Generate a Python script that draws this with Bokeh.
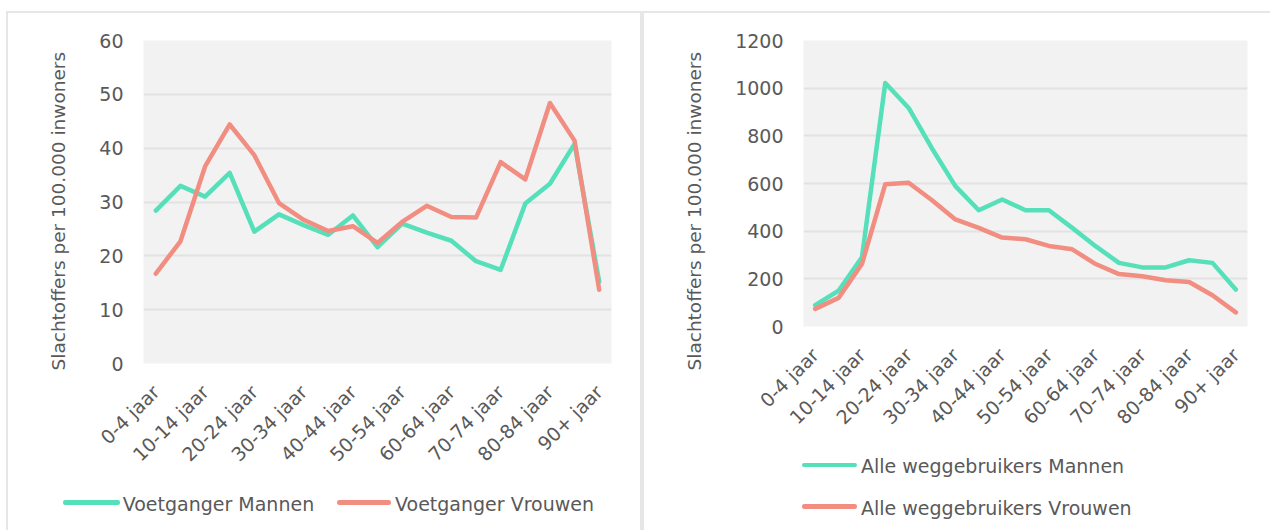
import math
from bokeh.plotting import figure
from bokeh.models import Range1d, Spacer, FixedTicker, Div, Title
from bokeh.layouts import row, column
from bokeh.embed import file_html
from bokeh.resources import INLINE

# ---- data ----
categories = ["0-4 jaar", "5-9 jaar", "10-14 jaar", "15-19 jaar", "20-24 jaar",
              "25-29 jaar", "30-34 jaar", "35-39 jaar", "40-44 jaar", "45-49 jaar",
              "50-54 jaar", "55-59 jaar", "60-64 jaar", "65-69 jaar", "70-74 jaar",
              "75-79 jaar", "80-84 jaar", "85-89 jaar", "90+ jaar"]

voetganger_mannen = [28.4, 33.0, 31.0, 35.4, 24.5, 27.7, 25.7, 23.9, 27.5, 21.6,
                     26.0, 24.3, 22.8, 19.0, 17.4, 29.7, 33.4, 40.8, 15.2]
voetganger_vrouwen = [16.7, 22.7, 36.6, 44.4, 38.7, 29.8, 26.7, 24.6, 25.5, 22.4,
                      26.3, 29.3, 27.2, 27.1, 37.4, 34.2, 48.4, 41.4, 13.7]

alle_mannen = [90, 150, 290, 1022, 917, 747, 589, 488, 533, 488,
               488, 414, 337, 267, 248, 248, 278, 267, 155]
alle_vrouwen = [74, 120, 262, 597, 603, 530, 449, 414, 373, 366,
                338, 324, 262, 220, 211, 194, 187, 131, 59]

left_ticks = [0, 10, 20, 30, 40, 50, 60]
right_ticks = [0, 200, 400, 600, 800, 1000, 1200]
y_title = "Slachtoffers per 100.000 inwoners"
left_labels = ["Voetganger Mannen", "Voetganger Vrouwen"]
right_labels = ["Alle weggebruikers Mannen", "Alle weggebruikers Vrouwen"]

# category positions on the axis (one slot per age group)
x_pos = list(range(len(categories)))

# ---- style ----
FONT = "DejaVu Sans"
TXT = "#595959"
GREEN = "#55E0BA"
RED = "#F18E81"
FS = "19px"
TITLE_FS = "18.5px"
BORDER = "#E6E6E6"
LW = 4.5


def make_fig(width, height, mbl, mbr, mbt, mbb, ticks, shadow, title_offset):
    p = figure(width=width, height=height,
               x_range=Range1d(-0.5, len(categories) - 0.5),
               y_range=Range1d(ticks[0], ticks[-1]),
               output_backend="svg", toolbar_location=None,
               min_border_left=mbl, min_border_right=mbr,
               min_border_top=mbt, min_border_bottom=mbb,
               styles={"box-shadow": shadow})
    p.border_fill_color = None
    p.background_fill_color = "#F2F2F2"
    p.outline_line_color = None
    p.xgrid.grid_line_color = None
    p.ygrid.grid_line_color = "#E2E2E2"
    p.ygrid.grid_line_width = 2
    p.yaxis.ticker = FixedTicker(ticks=ticks)
    p.xaxis.ticker = FixedTicker(ticks=x_pos[::2])
    p.xaxis.major_label_overrides = {i: c for i, c in zip(x_pos, categories)}
    for ax in (p.xaxis[0], p.yaxis[0]):
        ax.axis_line_color = None
        ax.major_tick_line_color = None
        ax.minor_tick_line_color = None
        ax.major_tick_out = 0
        ax.major_tick_in = 0
        ax.minor_tick_out = 0
        ax.major_label_text_font = FONT
        ax.major_label_text_font_size = FS
        ax.major_label_text_color = TXT
    p.yaxis.major_label_standoff = 20
    p.xaxis.major_label_standoff = 25
    p.xaxis.major_label_orientation = math.pi / 4
    # vertical axis title, placed outside the tick labels
    p.add_layout(Title(text=y_title, align="left", offset=title_offset,
                       standoff=56, text_font=FONT, text_font_size=TITLE_FS,
                       text_font_style="normal", text_color=TXT), "left")
    return p


def legend_div(width, height, entries, shadow):
    """entries: (label, colour, bar_left, bar_width, text_left, centre_y)"""
    parts = []
    for label, colour, bl, bw, tl, cy in entries:
        parts.append(
            f'<div style="position:absolute;left:{bl}px;top:{cy - 2.25}px;'
            f'width:{bw}px;height:4.5px;border-radius:2.25px;'
            f'background:{colour};"></div>')
        parts.append(
            f'<div style="position:absolute;left:{tl}px;top:{cy - 11}px;'
            f'line-height:24px;white-space:nowrap;font-family:\'{FONT}\';'
            f'font-size:{FS};color:{TXT};">{label}</div>')
    html = (f'<div style="position:relative;width:{width}px;height:{height}px;">'
            + "".join(parts) + "</div>")
    return Div(text=html, width=width, height=height,
               styles={"box-shadow": shadow, "margin": "0", "padding": "0"})


# ---- left panel ----
p1 = make_fig(636, 470, 137, 31, 29, 118, left_ticks,
              f"inset 2px 2px 0 0 {BORDER}, inset -2px 0 0 0 {BORDER}", -7)
p1.line(x_pos, voetganger_mannen, line_color=GREEN, line_width=LW,
        line_cap="round", line_join="round")
p1.line(x_pos, voetganger_vrouwen, line_color=RED, line_width=LW,
        line_cap="round", line_join="round")
l1 = legend_div(636, 49,
                [(left_labels[0], GREEN, 57.3, 56.7, 116.7, 21.7),
                 (left_labels[1], RED, 330.6, 54.7, 389, 21.7)],
                f"inset 2px 0 0 0 {BORDER}, inset -2px 0 0 0 {BORDER}")

# ---- right panel ----
p2 = make_fig(628, 436, 161, 23, 29, 121, right_ticks,
              f"inset 2px 2px 0 0 {BORDER}", -44)
p2.line(x_pos, alle_mannen, line_color=GREEN, line_width=LW,
        line_cap="round", line_join="round")
p2.line(x_pos, alle_vrouwen, line_color=RED, line_width=LW,
        line_cap="round", line_join="round")
l2 = legend_div(628, 83,
                [(right_labels[0], GREEN, 159.7, 55, 219, 18),
                 (right_labels[1], RED, 159.7, 55, 219, 59.7)],
                f"inset 2px 0 0 0 {BORDER}")

layout = column(Spacer(height=11),
                row(Spacer(width=6), column(p1, l1), column(p2, l2)))
open("out.html", "w").write(file_html(layout, INLINE))
